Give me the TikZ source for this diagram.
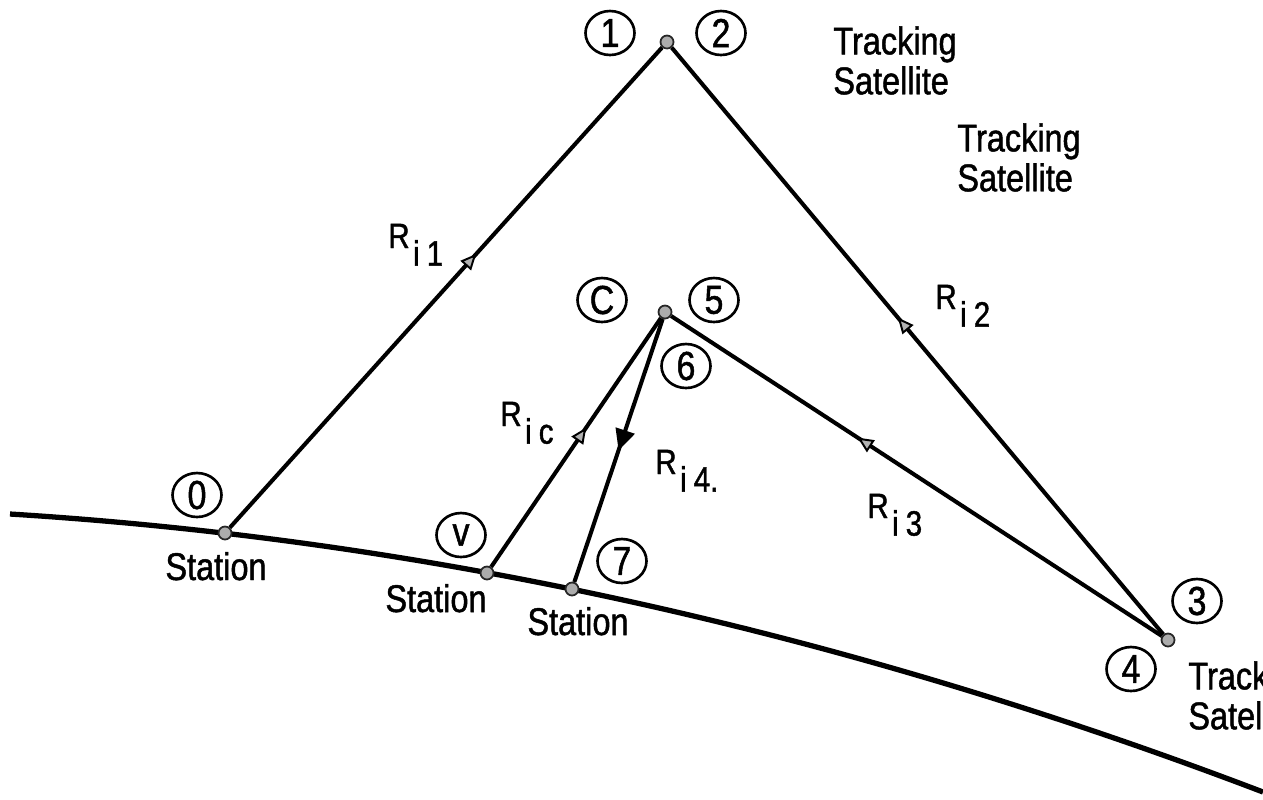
\documentclass[tikz,border=0pt]{standalone}
\usepackage{fontspec}
\setmainfont{Liberation Sans}[FakeStretch=0.84,FakeBold=1.2]
\usetikzlibrary{shapes.geometric,arrows.meta,decorations.markings}
\tikzset{
    >=Stealth,
    ray/.style={draw,line width=2.3pt,postaction={decorate},
        decoration={markings,mark=at position #1 with
            {\arrow{Triangle[length=9pt,width=8pt,fill=gray!60,line width=1.1pt]}}}},
    downray/.style={draw,line width=2.3pt,postaction={decorate},
        decoration={markings,mark=at position #1 with
            {\arrow{Triangle[length=12pt,width=11pt]}}}}
}
\newcommand{\rng}[1]{R\lower10pt\hbox{\kern2pt i\kern4pt #1}}

\begin{document}
\begin{tikzpicture}[x=0.02cm,y=-0.02cm,
                    dot/.style={circle,draw=black!85,fill=gray!65,line width=1pt,inner sep=0pt,minimum size=0.26cm},
                    num/.style={ellipse,draw,line width=1.5pt,inner sep=0pt,minimum width=0.98cm,minimum height=0.88cm,font=\fontsize{23}{23}\selectfont},
                    lbl/.style={inner sep=0pt,font=\fontsize{22}{22.7}\selectfont},
                    rlbl/.style={inner sep=0pt,anchor=base west,font=\fontsize{20}{20}\selectfont}]
\useasboundingbox (0,0) rectangle (1263,799);

% Earth
\draw[line width=3pt] (10,514) .. controls (428,540) and (845,632.5) .. (1263,792);

% Points
\node[dot] (sat) at (667,42) {};
\node[dot] (ctr) at (665,312) {};
\node[dot] (tgt) at (1168,640) {};
\node[dot] (st0) at (225,533) {};
\node[dot] (stv) at (487,573) {};
\node[dot] (st7) at (572,589) {};

% Ranges
\path[ray=0.57] (st0) -- (sat);
\path[ray=0.54] (tgt) -- (sat);
\path[ray=0.62] (tgt) -- (ctr);
\path[ray=0.56] (stv) -- (ctr);
\path[downray=0.5] (ctr) -- (st7);

% Numbers
\node[num] (n1) at (610,33) {1};
\node[num] (n2) at (721,33) {2};
\node[num] (nc) at (602,300) {C};
\node[num] (n5) at (714,300) {5};
\node[num] (n6) at (686,366) {6};
\node[num] (n0) at (197,495) {0};
\node[num] (nv) at (461,535) {v};
\node[num] (n7) at (622,561) {7};
\node[num] (n3) at (1197,601) {3};
\node[num] (n4) at (1131,669) {4};

% Labels
\node[lbl,anchor=base] (sta0) at (216,580) {Station};
\node[lbl,anchor=base] (stav) at (436,612) {Station};
\node[lbl,anchor=base] (sta7) at (578,635) {Station};
\node[lbl,anchor=north west,align=left] (trk1) at (833,26) {Tracking\\Satellite};
\node[lbl,anchor=north west,align=left] (trk2) at (957,123) {Tracking\\Satellite};
\node[lbl,anchor=north west,align=left] (trk3) at (1188,661) {Tracking\\Satellite};

\node[rlbl] (r1) at (388,248) {\rng{1}};
\node[rlbl] (r2) at (935,309) {\rng{2}};
\node[rlbl] (r3) at (867,518) {\rng{3}};
\node[rlbl] (rc) at (500,426) {\rng{c}};
\node[rlbl] (r4) at (655,474) {\rng{4.}};

\end{tikzpicture}
\end{document}
